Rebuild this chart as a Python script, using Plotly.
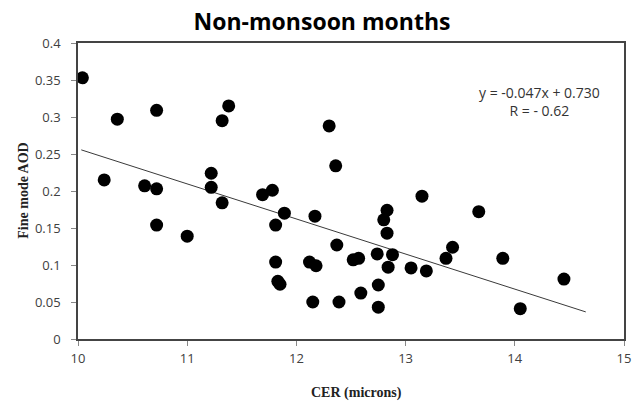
import plotly.graph_objects as go

cer = [10.04, 10.24, 10.36, 10.61, 10.72, 10.72, 10.72, 11.00, 11.22, 11.22,
       11.32, 11.32, 11.38, 11.69, 11.78, 11.81, 11.81, 11.83, 11.85, 11.89,
       12.12, 12.15, 12.17, 12.18, 12.30, 12.36, 12.37, 12.39, 12.52, 12.57,
       12.59, 12.74, 12.75, 12.75, 12.80, 12.83, 12.83, 12.84, 12.88, 13.05,
       13.15, 13.19, 13.37, 13.43, 13.67, 13.89, 14.05, 14.45]
aod = [0.353, 0.215, 0.297, 0.207, 0.309, 0.203, 0.154, 0.139, 0.224, 0.205,
       0.295, 0.184, 0.315, 0.195, 0.201, 0.154, 0.104, 0.078, 0.074, 0.170,
       0.104, 0.050, 0.166, 0.099, 0.288, 0.234, 0.127, 0.050, 0.107, 0.109,
       0.062, 0.115, 0.073, 0.043, 0.161, 0.174, 0.143, 0.097, 0.114, 0.096,
       0.193, 0.092, 0.109, 0.124, 0.172, 0.109, 0.041, 0.081]

fit_slope = -0.0474
fit_intercept = 0.731
fit_x = [10.03, 14.65]
fit_y = [fit_slope * v + fit_intercept for v in fit_x]

x_ticks = [10, 11, 12, 13, 14, 15]
y_ticks = [0, 0.05, 0.1, 0.15, 0.2, 0.25, 0.3, 0.35, 0.4]
y_tick_labels = ["0", "0.05", "0.1", "0.15", "0.2", "0.25", "0.3", "0.35", "0.4"]

fig = go.Figure()
fig.add_trace(go.Scatter(x=fit_x, y=fit_y, mode="lines",
                         line=dict(color="#3a3a3a", width=1), showlegend=False))
fig.add_trace(go.Scatter(x=cer, y=aod, mode="markers",
                         marker=dict(color="black", size=13), showlegend=False))

tick_font = dict(family="Open Sans, Lato, sans-serif", size=13, color="#404040")
fig.update_layout(
    width=638, height=405,
    margin=dict(l=78, r=7, t=43, b=66),
    paper_bgcolor="white", plot_bgcolor="white",
    title=dict(text="<b>Non-monsoon months</b>", x=322 / 638, xanchor="center",
               y=1 - 22 / 405, yanchor="middle",
               font=dict(family="Open Sans, sans-serif", size=23, color="black")),
    xaxis=dict(range=[10, 15], tickvals=x_ticks, ticktext=[str(t) for t in x_ticks],
               showgrid=False, zeroline=False, showline=True, mirror=True,
               linecolor="#444444", linewidth=1.5, ticks="outside", ticklen=5,
               tickcolor="#888888", tickfont=tick_font, ticklabelstandoff=2),
    yaxis=dict(range=[0, 0.4], tickvals=y_ticks, ticktext=y_tick_labels,
               showgrid=False, zeroline=False, showline=True, mirror=True,
               linecolor="#444444", linewidth=1.5, ticks="outside", ticklen=5,
               tickcolor="#888888", tickfont=tick_font, ticklabelstandoff=8),
    annotations=[
        dict(text="<b>CER (microns)</b>", xref="paper", yref="paper",
             x=(360 - 78) / (631 - 78), y=-(393 - 339) / (339 - 43),
             xanchor="center", yanchor="middle", showarrow=False,
             font=dict(family="Liberation Serif, Times New Roman, serif", size=14, color="#222222")),
        dict(text="<b>Fine mode AOD</b>", xref="paper", yref="paper",
             x=-(78 - 22) / (631 - 78), y=0.5, textangle=-90,
             xanchor="center", yanchor="middle", showarrow=False,
             font=dict(family="Liberation Serif, Times New Roman, serif", size=14, color="#222222")),
        dict(text="y = -0.047x + 0.730<br>R = - 0.62", xref="paper", yref="paper",
             x=(545 - 78) / (631 - 78), y=(339 - 101) / (339 - 43),
             xanchor="center", yanchor="middle", showarrow=False, align="center",
             font=dict(family="Open Sans, Lato, sans-serif", size=14, color="#333333")),
    ],
)

fig.write_html("out.html", config={"displayModeBar": False},
               post_script="document.body.style.margin='0';document.body.style.overflow='hidden';")
